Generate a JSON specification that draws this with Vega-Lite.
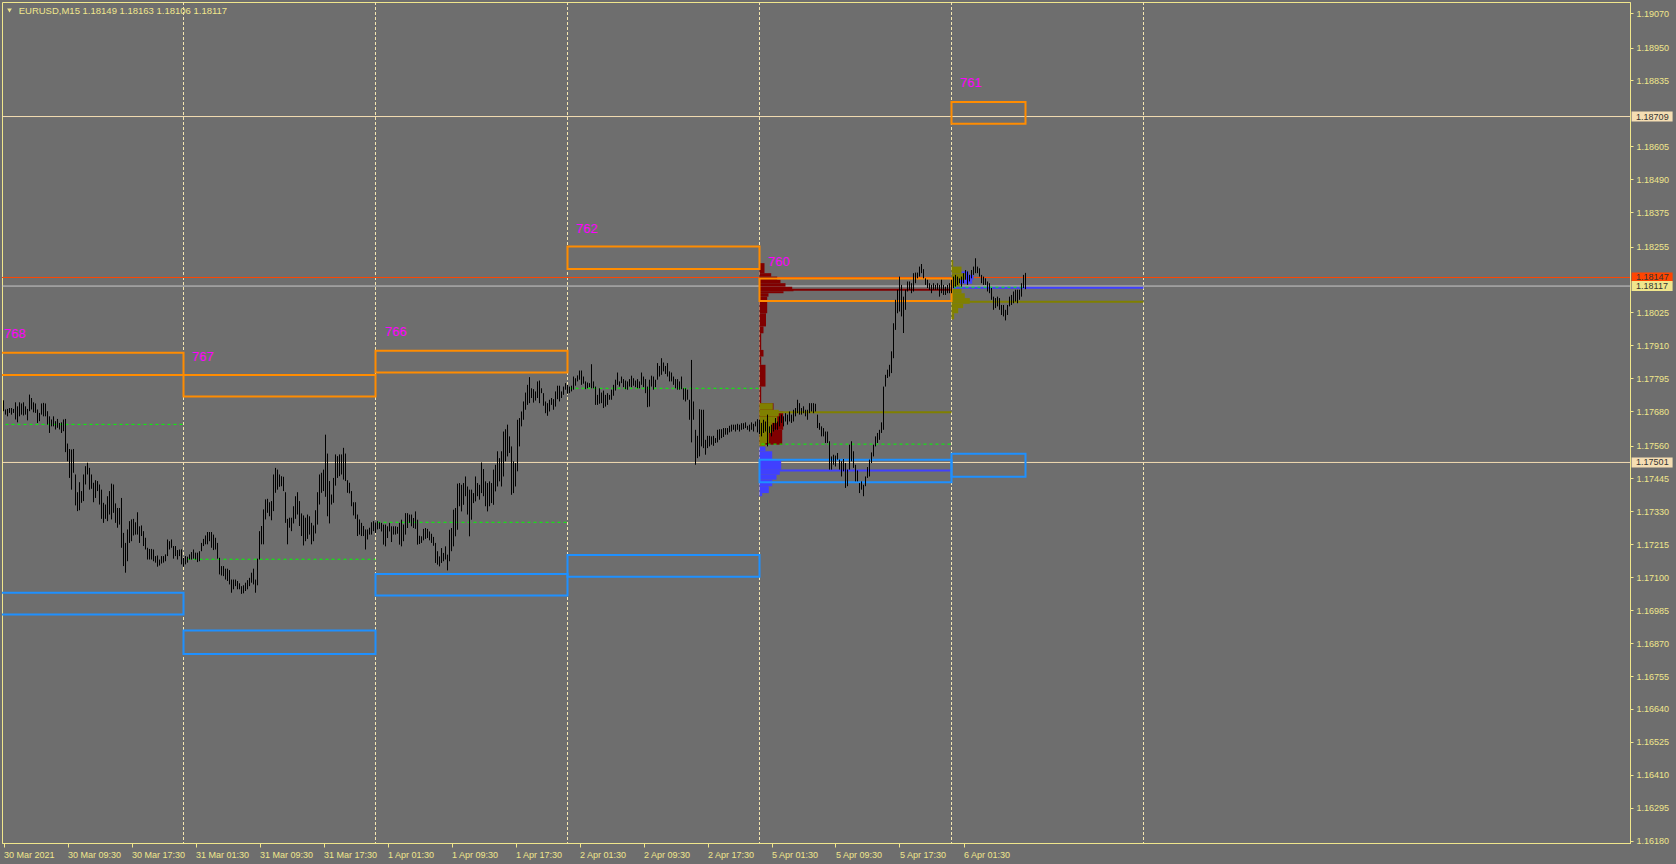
{
"$schema": "https://vega.github.io/schema/vega-lite/v6.json",
"width": 1628, "height": 841,
"autosize": {"type": "none"},
"padding": {"left": 2, "top": 2, "right": 46, "bottom": 21},
"background": "#6e6e6e",
"config": {
 "view": {"stroke": "#f0e68c", "fill": "#6e6e6e", "strokeWidth": 1},
 "axis": {"domainColor": "#f0e68c", "tickColor": "#f0e68c", "labelColor": "#f0e68c", "labelFont": "Liberation Sans", "labelFontSize": 9, "grid": false, "domainWidth": 1, "tickWidth": 1, "labelOverlap": false},
 "text": {"font": "Liberation Sans"}
},
"resolve": {"scale": {"color": "independent", "strokeWidth": "independent"}},
"datasets": {
 "seps": [{"i":96},{"i":192},{"i":288},{"i":384},{"i":480},{"i":576}],
 "hl": [{"p":1.18709,"k":"w"},{"p":1.17501,"k":"w"},{"p":1.18117,"k":"b"},{"p":1.18147,"k":"r"}],
 "prof": [
  {"i":384,"j":386.5,"p":1.18197,"q":1.18162,"k":"r"},
  {"i":384,"j":389.85,"p":1.18162,"q":1.1815,"k":"r"},
  {"i":384,"j":392.85,"p":1.1815,"q":1.18139,"k":"r"},
  {"i":384,"j":394.5,"p":1.18139,"q":1.18127,"k":"r"},
  {"i":384,"j":397,"p":1.18127,"q":1.18115,"k":"r"},
  {"i":384,"j":400.35,"p":1.18115,"q":1.18106,"k":"r"},
  {"i":384,"j":401,"p":1.18106,"q":1.18099,"k":"r"},
  {"i":384,"j":396,"p":1.18099,"q":1.18092,"k":"r"},
  {"i":384,"j":388.5,"p":1.18092,"q":1.1808,"k":"r"},
  {"i":384,"j":387.85,"p":1.1808,"q":1.18022,"k":"r"},
  {"i":384,"j":387.25,"p":1.18022,"q":1.17976,"k":"r"},
  {"i":384,"j":386,"p":1.17976,"q":1.17952,"k":"r"},
  {"i":384,"j":384.85,"p":1.17952,"q":1.17894,"k":"r"},
  {"i":384,"j":386,"p":1.17894,"q":1.17871,"k":"r"},
  {"i":384,"j":384.85,"p":1.17871,"q":1.17842,"k":"r"},
  {"i":384,"j":387,"p":1.17842,"q":1.17766,"k":"r"},
  {"i":384,"j":384.85,"p":1.17766,"q":1.17708,"k":"r"},
  {"i":384,"j":391,"p":1.17708,"q":1.17679,"k":"r"},
  {"i":384,"j":395.85,"p":1.17679,"q":1.17615,"k":"r"},
  {"i":384,"j":395.35,"p":1.17615,"q":1.17563,"k":"r"},
  {"i":384,"j":390.65,"p":1.17708,"q":1.17685,"k":"o"},
  {"i":384,"j":393.65,"p":1.17685,"q":1.17662,"k":"o"},
  {"i":384,"j":392.85,"p":1.17662,"q":1.17639,"k":"o"},
  {"i":384,"j":390.35,"p":1.17639,"q":1.17604,"k":"o"},
  {"i":384,"j":388.65,"p":1.17604,"q":1.17569,"k":"o"},
  {"i":384,"j":387,"p":1.17569,"q":1.17551,"k":"o"},
  {"i":384,"j":387,"p":1.17557,"q":1.1754,"k":"b"},
  {"i":384,"j":390.35,"p":1.1754,"q":1.17511,"k":"b"},
  {"i":384,"j":394.85,"p":1.17511,"q":1.17476,"k":"b"},
  {"i":384,"j":394.15,"p":1.17476,"q":1.17458,"k":"b"},
  {"i":384,"j":392.5,"p":1.17458,"q":1.17441,"k":"b"},
  {"i":384,"j":390.35,"p":1.17441,"q":1.17418,"k":"b"},
  {"i":384,"j":388.65,"p":1.17418,"q":1.17394,"k":"b"},
  {"i":384,"j":385.35,"p":1.17394,"q":1.17383,"k":"b"},
  {"i":480,"j":488.5,"p":1.18168,"q":1.18156,"k":"b"},
  {"i":480,"j":491,"p":1.18156,"q":1.18139,"k":"b"},
  {"i":480,"j":490.35,"p":1.18139,"q":1.18125,"k":"b"},
  {"i":480,"j":480.85,"p":1.18208,"q":1.18185,"k":"o"},
  {"i":480,"j":485,"p":1.18185,"q":1.18162,"k":"o"},
  {"i":480,"j":486.65,"p":1.18162,"q":1.18139,"k":"o"},
  {"i":480,"j":484.15,"p":1.18139,"q":1.18115,"k":"o"},
  {"i":480,"j":485,"p":1.18115,"q":1.18092,"k":"o"},
  {"i":480,"j":486.65,"p":1.18092,"q":1.18075,"k":"o"},
  {"i":480,"j":489.15,"p":1.18075,"q":1.18055,"k":"o"},
  {"i":480,"j":485.85,"p":1.18055,"q":1.1804,"k":"o"},
  {"i":480,"j":483.35,"p":1.1804,"q":1.18022,"k":"o"},
  {"i":480,"j":481.35,"p":1.18022,"q":1.18001,"k":"o"}
 ],
 "poc": [
  {"i":384,"j":480,"p":1.18104,"k":"r"},
  {"i":384,"j":480,"p":1.17676,"k":"o"},
  {"i":384,"j":480,"p":1.17473,"k":"b"},
  {"i":480,"j":576,"p":1.18062,"k":"o"},
  {"i":480,"j":576,"p":1.18111,"k":"b"}
 ],
 "green": [
  {"i":7,"j":96,"p":1.17634},
  {"i":98,"j":192,"p":1.17163},
  {"i":193,"j":288,"p":1.17292},
  {"i":289,"j":384,"p":1.1776},
  {"i":385,"j":480,"p":1.17565},
  {"i":481,"j":517,"p":1.18113}
 ],
 "boxes": [
  {"i":3,"j":96,"p":1.17884,"q":1.17806,"k":"s"},
  {"i":96,"j":192,"p":1.17806,"q":1.17731,"k":"s"},
  {"i":192,"j":288,"p":1.17891,"q":1.17815,"k":"s"},
  {"i":288,"j":384,"p":1.18255,"q":1.18177,"k":"s"},
  {"i":384,"j":480,"p":1.18143,"q":1.18065,"k":"s"},
  {"i":480,"j":517,"p":1.1876,"q":1.18684,"k":"s"},
  {"i":3,"j":96,"p":1.17046,"q":1.1697,"k":"d"},
  {"i":96,"j":192,"p":1.16914,"q":1.16832,"k":"d"},
  {"i":192,"j":288,"p":1.17111,"q":1.17036,"k":"d"},
  {"i":288,"j":384,"p":1.17178,"q":1.17102,"k":"d"},
  {"i":384,"j":480,"p":1.1751,"q":1.17432,"k":"d"},
  {"i":480,"j":517,"p":1.17531,"q":1.17451,"k":"d"}
 ],
 "labels": [
  {"i":6.25,"p":1.1795,"t":"768"},
  {"i":100.25,"p":1.1787,"t":"767"},
  {"i":196.75,"p":1.17957,"t":"766"},
  {"i":292.25,"p":1.18316,"t":"762"},
  {"i":388.25,"p":1.18202,"t":"760"},
  {"i":484.25,"p":1.18825,"t":"761"}
 ],
 "plabels": [{"p":1.18709,"k":"w"},{"p":1.18147,"k":"r"},{"p":1.18117,"k":"y"},{"p":1.17501,"k":"w"}],
 "bars": [
{"i":6,"h":1.17718,"l":1.1768},{"i":7,"h":1.17686,"l":1.17668},{"i":8,"h":1.17688,"l":1.17662},{"i":9,"h":1.17691,"l":1.17674},{"i":10,"h":1.17691,"l":1.17668},{"i":11,"h":1.17688,"l":1.17674},{"i":12,"h":1.17711,"l":1.17651},{"i":13,"h":1.17697,"l":1.17641},{"i":14,"h":1.17711,"l":1.17662},{"i":15,"h":1.17707,"l":1.17668},
{"i":16,"h":1.17711,"l":1.17665},{"i":17,"h":1.17697,"l":1.17668},{"i":18,"h":1.17688,"l":1.17648},{"i":19,"h":1.17738,"l":1.1768},{"i":20,"h":1.17726,"l":1.17686},{"i":21,"h":1.17711,"l":1.17676},{"i":22,"h":1.17707,"l":1.17674},{"i":23,"h":1.17686,"l":1.17639},{"i":24,"h":1.17674,"l":1.17645},{"i":25,"h":1.17707,"l":1.17668},
{"i":26,"h":1.17709,"l":1.17662},{"i":27,"h":1.17707,"l":1.17662},{"i":28,"h":1.1768,"l":1.17633},{"i":29,"h":1.17662,"l":1.17604},{"i":30,"h":1.17651,"l":1.17627},{"i":31,"h":1.17662,"l":1.17627},{"i":32,"h":1.17645,"l":1.17616},{"i":33,"h":1.17653,"l":1.17622},{"i":34,"h":1.17639,"l":1.17616},{"i":35,"h":1.17641,"l":1.17604},
{"i":36,"h":1.17651,"l":1.1761},{"i":37,"h":1.17653,"l":1.17537},{"i":38,"h":1.17567,"l":1.17505},{"i":39,"h":1.17548,"l":1.17447},{"i":40,"h":1.17546,"l":1.17406},{"i":41,"h":1.17548,"l":1.17465},{"i":42,"h":1.17459,"l":1.17351},{"i":43,"h":1.17397,"l":1.17331},{"i":44,"h":1.17432,"l":1.17334},{"i":45,"h":1.17401,"l":1.1736},
{"i":46,"h":1.17459,"l":1.17366},{"i":47,"h":1.17488,"l":1.17424},{"i":48,"h":1.175,"l":1.17459},{"i":49,"h":1.17482,"l":1.17406},{"i":50,"h":1.17459,"l":1.17409},{"i":51,"h":1.1743,"l":1.17362},{"i":52,"h":1.17439,"l":1.17377},{"i":53,"h":1.17436,"l":1.17401},{"i":54,"h":1.17424,"l":1.17354},{"i":55,"h":1.17406,"l":1.17304},
{"i":56,"h":1.1736,"l":1.1729},{"i":57,"h":1.17354,"l":1.17304},{"i":58,"h":1.17383,"l":1.17296},{"i":59,"h":1.17401,"l":1.17319},{"i":60,"h":1.17427,"l":1.17302},{"i":61,"h":1.17424,"l":1.17325},{"i":62,"h":1.17358,"l":1.1729},{"i":63,"h":1.17342,"l":1.17273},{"i":64,"h":1.17342,"l":1.17284},{"i":65,"h":1.17377,"l":1.17203},
{"i":66,"h":1.17255,"l":1.17139},{"i":67,"h":1.1722,"l":1.17116},{"i":68,"h":1.17267,"l":1.17156},{"i":69,"h":1.17296,"l":1.1722},{"i":70,"h":1.17302,"l":1.17226},{"i":71,"h":1.17304,"l":1.17246},{"i":72,"h":1.17292,"l":1.17249},{"i":73,"h":1.17327,"l":1.17249},{"i":74,"h":1.17278,"l":1.1722},{"i":75,"h":1.17281,"l":1.17244},
{"i":76,"h":1.17261,"l":1.17209},{"i":77,"h":1.17238,"l":1.17197},{"i":78,"h":1.17203,"l":1.17162},{"i":79,"h":1.17199,"l":1.17162},{"i":80,"h":1.17199,"l":1.17162},{"i":81,"h":1.17197,"l":1.17156},{"i":82,"h":1.17174,"l":1.17151},{"i":83,"h":1.17176,"l":1.17137},{"i":84,"h":1.17162,"l":1.17141},{"i":85,"h":1.17174,"l":1.17148},
{"i":86,"h":1.17174,"l":1.17151},{"i":87,"h":1.1718,"l":1.17156},{"i":88,"h":1.17232,"l":1.17174},{"i":89,"h":1.17226,"l":1.17197},{"i":90,"h":1.17232,"l":1.17203},{"i":91,"h":1.17209,"l":1.17165},{"i":92,"h":1.17209,"l":1.17174},{"i":93,"h":1.17195,"l":1.17162},{"i":94,"h":1.17197,"l":1.17174},{"i":95,"h":1.17197,"l":1.17145},
{"i":96,"h":1.17168,"l":1.17137},{"i":97,"h":1.17174,"l":1.17145},{"i":98,"h":1.17172,"l":1.17151},{"i":99,"h":1.1718,"l":1.17162},{"i":100,"h":1.17188,"l":1.17162},{"i":101,"h":1.17197,"l":1.17165},{"i":102,"h":1.17186,"l":1.17162},{"i":103,"h":1.17186,"l":1.17153},{"i":104,"h":1.17191,"l":1.17156},{"i":105,"h":1.1722,"l":1.17191},
{"i":106,"h":1.17234,"l":1.17209},{"i":107,"h":1.17246,"l":1.17215},{"i":108,"h":1.17258,"l":1.17215},{"i":109,"h":1.17258,"l":1.17226},{"i":110,"h":1.17258,"l":1.17203},{"i":111,"h":1.17249,"l":1.17195},{"i":112,"h":1.17238,"l":1.17197},{"i":113,"h":1.1722,"l":1.17165},{"i":114,"h":1.17168,"l":1.1711},{"i":115,"h":1.17139,"l":1.17106},
{"i":116,"h":1.17139,"l":1.17104},{"i":117,"h":1.1713,"l":1.17092},{"i":118,"h":1.1713,"l":1.17087},{"i":119,"h":1.17125,"l":1.17075},{"i":120,"h":1.17092,"l":1.17046},{"i":121,"h":1.17092,"l":1.17058},{"i":122,"h":1.17092,"l":1.17069},{"i":123,"h":1.17087,"l":1.17058},{"i":124,"h":1.17079,"l":1.17058},{"i":125,"h":1.17069,"l":1.17042},
{"i":126,"h":1.17072,"l":1.17044},{"i":127,"h":1.17081,"l":1.17052},{"i":128,"h":1.1709,"l":1.17058},{"i":129,"h":1.17098,"l":1.17069},{"i":130,"h":1.17116,"l":1.17081},{"i":131,"h":1.1713,"l":1.17075},{"i":132,"h":1.17092,"l":1.17046},{"i":133,"h":1.17165,"l":1.17072},{"i":134,"h":1.17261,"l":1.17162},{"i":135,"h":1.17279,"l":1.17215},
{"i":136,"h":1.17337,"l":1.17215},{"i":137,"h":1.17372,"l":1.17302},{"i":138,"h":1.17374,"l":1.17325},{"i":139,"h":1.17362,"l":1.17313},{"i":140,"h":1.17366,"l":1.17299},{"i":141,"h":1.17459,"l":1.17331},{"i":142,"h":1.17482,"l":1.17395},{"i":143,"h":1.17476,"l":1.17406},{"i":144,"h":1.17459,"l":1.17416},{"i":145,"h":1.17453,"l":1.17418},
{"i":146,"h":1.17451,"l":1.17401},{"i":147,"h":1.17397,"l":1.1729},{"i":148,"h":1.17304,"l":1.17215},{"i":149,"h":1.17308,"l":1.17273},{"i":150,"h":1.17308,"l":1.17261},{"i":151,"h":1.17348,"l":1.17288},{"i":152,"h":1.17383,"l":1.17304},{"i":153,"h":1.17397,"l":1.17319},{"i":154,"h":1.17366,"l":1.17279},{"i":155,"h":1.17323,"l":1.17244},
{"i":156,"h":1.17316,"l":1.17211},{"i":157,"h":1.17308,"l":1.17226},{"i":158,"h":1.17319,"l":1.17234},{"i":159,"h":1.17313,"l":1.17249},{"i":160,"h":1.1729,"l":1.17215},{"i":161,"h":1.17281,"l":1.17226},{"i":162,"h":1.17334,"l":1.17253},{"i":163,"h":1.17397,"l":1.17284},{"i":164,"h":1.17459,"l":1.17354},{"i":165,"h":1.17465,"l":1.17395},
{"i":166,"h":1.17476,"l":1.17401},{"i":167,"h":1.17598,"l":1.17381},{"i":168,"h":1.17532,"l":1.17313},{"i":169,"h":1.17436,"l":1.17288},{"i":170,"h":1.17389,"l":1.17354},{"i":171,"h":1.17447,"l":1.1736},{"i":172,"h":1.17529,"l":1.1742},{"i":173,"h":1.17523,"l":1.17447},{"i":174,"h":1.17529,"l":1.17453},{"i":175,"h":1.17529,"l":1.17459},
{"i":176,"h":1.17552,"l":1.17441},{"i":177,"h":1.17532,"l":1.17436},{"i":178,"h":1.17439,"l":1.17395},{"i":179,"h":1.1743,"l":1.17393},{"i":180,"h":1.17401,"l":1.17348},{"i":181,"h":1.17362,"l":1.17316},{"i":182,"h":1.17362,"l":1.17304},{"i":183,"h":1.17319,"l":1.17244},{"i":184,"h":1.17302,"l":1.17249},{"i":185,"h":1.1729,"l":1.17244},
{"i":186,"h":1.17279,"l":1.17244},{"i":187,"h":1.17267,"l":1.17197},{"i":188,"h":1.17267,"l":1.17232},{"i":189,"h":1.17273,"l":1.17249},{"i":190,"h":1.17292,"l":1.17249},{"i":191,"h":1.17296,"l":1.17261},{"i":192,"h":1.17292,"l":1.17255},{"i":193,"h":1.17296,"l":1.17267},{"i":194,"h":1.17292,"l":1.17269},
{"i":195,"h":1.1729,"l":1.1726},{"i":196,"h":1.17284,"l":1.17214},{"i":197,"h":1.17284,"l":1.17208},{"i":198,"h":1.17278,"l":1.17237},{"i":199,"h":1.1729,"l":1.1726},{"i":200,"h":1.17278,"l":1.17223},{"i":201,"h":1.17278,"l":1.17249},{"i":202,"h":1.17278,"l":1.17249},{"i":203,"h":1.17276,"l":1.17252},{"i":204,"h":1.1729,"l":1.17214},
{"i":205,"h":1.17301,"l":1.17208},{"i":206,"h":1.17284,"l":1.17226},{"i":207,"h":1.17324,"l":1.17249},{"i":208,"h":1.17324,"l":1.17272},{"i":209,"h":1.17319,"l":1.1729},{"i":210,"h":1.17319,"l":1.17278},{"i":211,"h":1.17307,"l":1.17272},{"i":212,"h":1.1733,"l":1.17269},{"i":213,"h":1.17301,"l":1.17214},{"i":214,"h":1.17245,"l":1.17216},
{"i":215,"h":1.17243,"l":1.1722},{"i":216,"h":1.17269,"l":1.17229},{"i":217,"h":1.17272,"l":1.17234},{"i":218,"h":1.17269,"l":1.17237},{"i":219,"h":1.1726,"l":1.17229},{"i":220,"h":1.17252,"l":1.1722},{"i":221,"h":1.17241,"l":1.1721},{"i":222,"h":1.1722,"l":1.1715},{"i":223,"h":1.17191,"l":1.17144},{"i":224,"h":1.17173,"l":1.17138},
{"i":225,"h":1.17202,"l":1.1715},{"i":226,"h":1.17185,"l":1.17156},{"i":227,"h":1.17208,"l":1.17162},{"i":228,"h":1.17179,"l":1.17124},{"i":229,"h":1.17266,"l":1.17156},{"i":230,"h":1.17272,"l":1.17191},{"i":231,"h":1.17336,"l":1.17208},{"i":232,"h":1.17342,"l":1.17243},{"i":233,"h":1.17427,"l":1.17266},{"i":234,"h":1.17429,"l":1.17348},
{"i":235,"h":1.17423,"l":1.1733},{"i":236,"h":1.17429,"l":1.17353},{"i":237,"h":1.17452,"l":1.17383},{"i":238,"h":1.17417,"l":1.17319},{"i":239,"h":1.17406,"l":1.17243},{"i":240,"h":1.17406,"l":1.17301},{"i":241,"h":1.17394,"l":1.17359},{"i":242,"h":1.17452,"l":1.17365},{"i":243,"h":1.17429,"l":1.17383},{"i":244,"h":1.17423,"l":1.17371},
{"i":245,"h":1.17501,"l":1.17394},{"i":246,"h":1.17478,"l":1.17383},{"i":247,"h":1.17435,"l":1.17348},{"i":248,"h":1.17429,"l":1.1733},{"i":249,"h":1.17435,"l":1.17348},{"i":250,"h":1.17429,"l":1.17359},{"i":251,"h":1.17476,"l":1.17353},{"i":252,"h":1.17493,"l":1.174},{"i":253,"h":1.1754,"l":1.17417},{"i":254,"h":1.17516,"l":1.17435},
{"i":255,"h":1.1754,"l":1.17417},{"i":256,"h":1.17609,"l":1.17452},{"i":257,"h":1.17617,"l":1.17505},{"i":258,"h":1.17633,"l":1.17522},{"i":259,"h":1.17592,"l":1.17534},{"i":260,"h":1.17557,"l":1.17388},{"i":261,"h":1.17505,"l":1.17394},{"i":262,"h":1.17499,"l":1.17417},{"i":263,"h":1.1765,"l":1.1747},{"i":264,"h":1.17656,"l":1.17557},
{"i":265,"h":1.17679,"l":1.17627},{"i":266,"h":1.17714,"l":1.1765},{"i":267,"h":1.17745,"l":1.17685},{"i":268,"h":1.17772,"l":1.17702},{"i":269,"h":1.17799,"l":1.17708},{"i":270,"h":1.1776,"l":1.17726},{"i":271,"h":1.17757,"l":1.1771},{"i":272,"h":1.17749,"l":1.17717},{"i":273,"h":1.17784,"l":1.17726},{"i":274,"h":1.17787,"l":1.17708},
{"i":275,"h":1.1776,"l":1.17743},{"i":276,"h":1.17743,"l":1.17699},{"i":277,"h":1.17714,"l":1.17673},{"i":278,"h":1.17708,"l":1.17664},{"i":279,"h":1.1772,"l":1.17679},{"i":280,"h":1.17726,"l":1.17702},{"i":281,"h":1.17722,"l":1.17685},{"i":282,"h":1.17749,"l":1.17696},{"i":283,"h":1.17769,"l":1.17722},{"i":284,"h":1.17769,"l":1.17714},
{"i":285,"h":1.17749,"l":1.17726},{"i":286,"h":1.17766,"l":1.17737},{"i":287,"h":1.17778,"l":1.17755},{"i":288,"h":1.17772,"l":1.17741},{"i":289,"h":1.17766,"l":1.17743},{"i":290,"h":1.17769,"l":1.17749},{"i":291,"h":1.17801,"l":1.17755},{"i":292,"h":1.17795,"l":1.17769},{"i":293,"h":1.17805,"l":1.17784},{"i":294,"h":1.17822,"l":1.1779},
{"i":295,"h":1.17822,"l":1.17772},{"i":296,"h":1.17801,"l":1.17776},{"i":297,"h":1.17784,"l":1.17757},{"i":298,"h":1.1778,"l":1.1776},{"i":299,"h":1.17778,"l":1.17764},{"i":300,"h":1.17844,"l":1.1776},{"i":301,"h":1.17784,"l":1.1776},{"i":302,"h":1.17766,"l":1.17702},{"i":303,"h":1.17737,"l":1.17702},{"i":304,"h":1.1776,"l":1.17706},
{"i":305,"h":1.17745,"l":1.17708},{"i":306,"h":1.17752,"l":1.17691},{"i":307,"h":1.17737,"l":1.17696},{"i":308,"h":1.17743,"l":1.17702},{"i":309,"h":1.17737,"l":1.1772},{"i":310,"h":1.17755,"l":1.1772},{"i":311,"h":1.17772,"l":1.17734},{"i":312,"h":1.1779,"l":1.17752},{"i":313,"h":1.17815,"l":1.17772},{"i":314,"h":1.17784,"l":1.17766},
{"i":315,"h":1.17801,"l":1.17778},{"i":316,"h":1.17792,"l":1.17764},{"i":317,"h":1.17787,"l":1.17757},{"i":318,"h":1.17784,"l":1.17755},{"i":319,"h":1.17792,"l":1.17766},{"i":320,"h":1.17804,"l":1.17764},{"i":321,"h":1.17795,"l":1.17769},{"i":322,"h":1.17787,"l":1.17764},{"i":323,"h":1.17792,"l":1.1776},{"i":324,"h":1.17784,"l":1.1776},
{"i":325,"h":1.17815,"l":1.17772},{"i":326,"h":1.17801,"l":1.17764},{"i":327,"h":1.17792,"l":1.17743},{"i":328,"h":1.17766,"l":1.17694},{"i":329,"h":1.1779,"l":1.17696},{"i":330,"h":1.17804,"l":1.17766},{"i":331,"h":1.17801,"l":1.17755},{"i":332,"h":1.1779,"l":1.17764},{"i":333,"h":1.17848,"l":1.1779},{"i":334,"h":1.17838,"l":1.17801},
{"i":335,"h":1.17865,"l":1.17807},{"i":336,"h":1.1785,"l":1.17819},{"i":337,"h":1.17838,"l":1.1781},{"i":338,"h":1.17848,"l":1.17801},{"i":339,"h":1.17819,"l":1.17784},{"i":340,"h":1.17815,"l":1.17784},{"i":341,"h":1.17801,"l":1.17772},{"i":342,"h":1.17792,"l":1.1776},{"i":343,"h":1.17792,"l":1.17755},{"i":344,"h":1.17784,"l":1.17755},
{"i":345,"h":1.17801,"l":1.17757},{"i":346,"h":1.1776,"l":1.1772},{"i":347,"h":1.1776,"l":1.17714},{"i":348,"h":1.17755,"l":1.1772},{"i":349,"h":1.1772,"l":1.1765},{"i":350,"h":1.17859,"l":1.17571},{"i":351,"h":1.17714,"l":1.1765},{"i":352,"h":1.17615,"l":1.17493},{"i":353,"h":1.17594,"l":1.17516},{"i":354,"h":1.17687,"l":1.17522},
{"i":355,"h":1.17685,"l":1.17557},{"i":356,"h":1.17685,"l":1.17551},{"i":357,"h":1.1758,"l":1.17528},{"i":358,"h":1.17594,"l":1.17551},{"i":359,"h":1.17594,"l":1.17557},{"i":360,"h":1.17592,"l":1.17563},{"i":361,"h":1.17594,"l":1.17559},{"i":362,"h":1.17586,"l":1.17569},{"i":363,"h":1.17615,"l":1.17571},{"i":364,"h":1.17617,"l":1.1758},
{"i":365,"h":1.17617,"l":1.17586},{"i":366,"h":1.17621,"l":1.1759},{"i":367,"h":1.17621,"l":1.17598},{"i":368,"h":1.17621,"l":1.17598},{"i":369,"h":1.17629,"l":1.17606},{"i":370,"h":1.17633,"l":1.17609},{"i":371,"h":1.17633,"l":1.17615},{"i":372,"h":1.17633,"l":1.17609},{"i":373,"h":1.17636,"l":1.17615},{"i":374,"h":1.17633,"l":1.17609},
{"i":375,"h":1.17638,"l":1.17615},{"i":376,"h":1.17638,"l":1.17617},{"i":377,"h":1.17641,"l":1.17621},{"i":378,"h":1.17629,"l":1.17615},{"i":379,"h":1.17633,"l":1.17609},{"i":380,"h":1.17641,"l":1.17615},{"i":381,"h":1.17636,"l":1.17609},{"i":382,"h":1.17644,"l":1.17627},{"i":383,"h":1.17652,"l":1.17606},{"i":384,"h":1.1765,"l":1.176},
{"i":385,"h":1.17639,"l":1.17592},{"i":386,"h":1.1765,"l":1.17604},{"i":387,"h":1.17644,"l":1.17609},{"i":388,"h":1.17668,"l":1.17557},{"i":389,"h":1.17627,"l":1.17604},{"i":390,"h":1.17633,"l":1.17592},{"i":391,"h":1.17639,"l":1.17609},{"i":392,"h":1.17656,"l":1.17615},{"i":393,"h":1.17644,"l":1.17615},{"i":394,"h":1.17662,"l":1.17627},
{"i":395,"h":1.17668,"l":1.17639},{"i":396,"h":1.17662,"l":1.17627},{"i":397,"h":1.17673,"l":1.17644},{"i":398,"h":1.17668,"l":1.17633},{"i":399,"h":1.17679,"l":1.17644},{"i":400,"h":1.17668,"l":1.17639},{"i":401,"h":1.17685,"l":1.17644},{"i":402,"h":1.17691,"l":1.17662},{"i":403,"h":1.1772,"l":1.17673},{"i":404,"h":1.17708,"l":1.17668},
{"i":405,"h":1.17691,"l":1.17668},{"i":406,"h":1.17697,"l":1.17673},{"i":407,"h":1.17685,"l":1.17662},{"i":408,"h":1.17685,"l":1.1765},{"i":409,"h":1.17708,"l":1.17673},{"i":410,"h":1.17708,"l":1.17679},{"i":411,"h":1.17708,"l":1.17673},{"i":412,"h":1.17706,"l":1.17679},{"i":413,"h":1.17668,"l":1.17621},{"i":414,"h":1.17639,"l":1.17615},
{"i":415,"h":1.17627,"l":1.17592},{"i":416,"h":1.17621,"l":1.17592},{"i":417,"h":1.17609,"l":1.17569},{"i":418,"h":1.17609,"l":1.17569},{"i":419,"h":1.17575,"l":1.17476},{"i":420,"h":1.17522,"l":1.17476},{"i":421,"h":1.17528,"l":1.17493},{"i":422,"h":1.17525,"l":1.17487},{"i":423,"h":1.17534,"l":1.17511},{"i":424,"h":1.17511,"l":1.17476},
{"i":425,"h":1.17505,"l":1.17452},{"i":426,"h":1.17513,"l":1.1747},{"i":427,"h":1.17499,"l":1.17412},{"i":428,"h":1.17476,"l":1.17418},{"i":429,"h":1.17563,"l":1.17476},{"i":430,"h":1.17575,"l":1.17505},{"i":431,"h":1.1754,"l":1.17482},{"i":432,"h":1.17493,"l":1.17435},{"i":433,"h":1.17473,"l":1.17435},{"i":434,"h":1.17429,"l":1.17394},
{"i":435,"h":1.17435,"l":1.17406},{"i":436,"h":1.17423,"l":1.17383},{"i":437,"h":1.17452,"l":1.17418},{"i":438,"h":1.17485,"l":1.17447},{"i":439,"h":1.17511,"l":1.17452},{"i":440,"h":1.17536,"l":1.17499},{"i":441,"h":1.17563,"l":1.17522},{"i":442,"h":1.17592,"l":1.17557},{"i":443,"h":1.17604,"l":1.17569},{"i":444,"h":1.17615,"l":1.1758},
{"i":445,"h":1.17641,"l":1.17604},{"i":446,"h":1.17766,"l":1.17615},{"i":447,"h":1.17807,"l":1.17766},{"i":448,"h":1.17825,"l":1.17796},{"i":449,"h":1.17842,"l":1.17801},{"i":450,"h":1.17889,"l":1.17813},{"i":451,"h":1.17987,"l":1.17865},{"i":452,"h":1.18069,"l":1.17964},{"i":453,"h":1.18104,"l":1.18022},{"i":454,"h":1.1815,"l":1.18028},
{"i":455,"h":1.18121,"l":1.18011},{"i":456,"h":1.1808,"l":1.17953},{"i":457,"h":1.18104,"l":1.18034},{"i":458,"h":1.18133,"l":1.18098},{"i":459,"h":1.18133,"l":1.18104},{"i":460,"h":1.18127,"l":1.18092},{"i":461,"h":1.18162,"l":1.18098},{"i":462,"h":1.18164,"l":1.18127},{"i":463,"h":1.18164,"l":1.18144},{"i":464,"h":1.18185,"l":1.1815},
{"i":465,"h":1.18194,"l":1.18162},{"i":466,"h":1.18176,"l":1.18144},{"i":467,"h":1.18144,"l":1.18121},{"i":468,"h":1.18139,"l":1.1811},{"i":469,"h":1.18127,"l":1.18104},{"i":470,"h":1.18121,"l":1.18092},{"i":471,"h":1.18127,"l":1.18104},{"i":472,"h":1.18121,"l":1.18104},{"i":473,"h":1.18127,"l":1.18104},{"i":474,"h":1.18121,"l":1.1808},
{"i":475,"h":1.18139,"l":1.18092},{"i":476,"h":1.18121,"l":1.18086},{"i":477,"h":1.18115,"l":1.18086},{"i":478,"h":1.18121,"l":1.18092},{"i":479,"h":1.18127,"l":1.18092},{"i":480,"h":1.18139,"l":1.18092},{"i":481,"h":1.1815,"l":1.1811},{"i":482,"h":1.18156,"l":1.18115},{"i":483,"h":1.1815,"l":1.18121},{"i":484,"h":1.18144,"l":1.18127},
{"i":485,"h":1.1815,"l":1.18115},{"i":486,"h":1.18162,"l":1.18127},{"i":487,"h":1.18173,"l":1.18139},{"i":488,"h":1.18168,"l":1.18121},{"i":489,"h":1.18156,"l":1.18133},{"i":490,"h":1.18173,"l":1.18144},{"i":491,"h":1.18185,"l":1.18156},{"i":492,"h":1.18214,"l":1.18162},{"i":493,"h":1.18185,"l":1.18162},{"i":494,"h":1.18179,"l":1.1815},
{"i":495,"h":1.18156,"l":1.18127},{"i":496,"h":1.1815,"l":1.18121},{"i":497,"h":1.18144,"l":1.18121},{"i":498,"h":1.18133,"l":1.18098},{"i":499,"h":1.18127,"l":1.18092},{"i":500,"h":1.1811,"l":1.18069},{"i":501,"h":1.1808,"l":1.18034},{"i":502,"h":1.18075,"l":1.1804},{"i":503,"h":1.1808,"l":1.18046},{"i":504,"h":1.18075,"l":1.18034},
{"i":505,"h":1.18051,"l":1.18016},{"i":506,"h":1.18051,"l":1.18011},{"i":507,"h":1.18034,"l":1.17997},{"i":508,"h":1.18051,"l":1.18016},{"i":509,"h":1.1808,"l":1.18046},{"i":510,"h":1.18086,"l":1.18051},{"i":511,"h":1.18098,"l":1.18057},{"i":512,"h":1.18104,"l":1.18063},{"i":513,"h":1.18104,"l":1.18057},{"i":514,"h":1.18104,"l":1.18069},
{"i":515,"h":1.18127,"l":1.1808},{"i":516,"h":1.18156,"l":1.1811},{"i":517,"h":1.18163,"l":1.18106}
 ]
},
"layer": [
 {"data": {"name": "bars"}, "mark": {"type": "rule", "stroke": "#000000", "strokeWidth": 1, "opacity": 0},
  "encoding": {
   "x": {"field": "i", "type": "quantitative", "scale": {"domain": [5.25, 819.25], "nice": false, "zero": false},
    "axis": {"orient": "bottom", "title": null, "values": [6, 38, 70, 102, 134, 166, 198, 230, 262, 294, 326, 358, 390, 422, 454, 486], "tickCount": 100,
     "labelExpr": "['30 Mar 2021','30 Mar 09:30','30 Mar 17:30','31 Mar 01:30','31 Mar 09:30','31 Mar 17:30','1 Apr 01:30','1 Apr 09:30','1 Apr 17:30','2 Apr 01:30','2 Apr 09:30','2 Apr 17:30','5 Apr 01:30','5 Apr 09:30','5 Apr 17:30','6 Apr 01:30'][round((datum.value-6)/32)]",
     "labelAlign": "left", "labelBaseline": "top", "tickSize": 4, "labelPadding": 3, "labelOverlap": false, "labelFlush": false, "labelBound": false}},
   "y": {"field": "h", "type": "quantitative", "scale": {"domain": [1.16172, 1.19109], "nice": false, "zero": false},
    "axis": {"orient": "right", "title": null, "values": [1.1907, 1.1895, 1.18835, 1.18605, 1.1849, 1.18375, 1.18255, 1.18025, 1.1791, 1.17795, 1.1768, 1.1756, 1.17445, 1.1733, 1.17215, 1.171, 1.16985, 1.1687, 1.16755, 1.1664, 1.16525, 1.1641, 1.16295, 1.1618], "tickCount": 100,
     "format": ".5f", "tickSize": 3, "labelPadding": 3, "labelOverlap": false, "labelBound": false, "labelFlush": false, "labelBaseline": "middle"}},
   "y2": {"field": "l"}}},
 {"data": {"name": "seps"}, "mark": {"type": "rule", "stroke": "#f5e6b0", "strokeDash": [3, 2], "strokeWidth": 1},
  "encoding": {"x": {"field": "i", "type": "quantitative", "axis": {"title": null}}}},
 {"data": {"name": "hl"}, "mark": {"type": "rule"},
  "encoding": {"y": {"field": "p", "type": "quantitative", "axis": {"title": null}},
   "color": {"field": "k", "type": "nominal", "scale": {"domain": ["w", "b", "r"], "range": ["#f5deb3", "#c8c8c8", "#ff4500"]}, "legend": null},
   "strokeWidth": {"field": "k", "type": "nominal", "scale": {"domain": ["w", "b", "r"], "range": [1, 1, 2]}, "legend": null}}},
 {"data": {"name": "prof"}, "mark": {"type": "rect", "clip": true},
  "encoding": {"x": {"field": "i", "type": "quantitative", "axis": {"title": null}}, "x2": {"field": "j"},
   "y": {"field": "p", "type": "quantitative", "axis": {"title": null}}, "y2": {"field": "q"},
   "color": {"field": "k", "type": "nominal", "scale": {"domain": ["r", "o", "b"], "range": ["#800000", "#808000", "#4040ff"]}, "legend": null}}},
 {"data": {"name": "poc"}, "mark": {"type": "rule", "strokeWidth": 2},
  "encoding": {"x": {"field": "i", "type": "quantitative", "axis": {"title": null}}, "x2": {"field": "j"},
   "y": {"field": "p", "type": "quantitative", "axis": {"title": null}},
   "color": {"field": "k", "type": "nominal", "scale": {"domain": ["r", "o", "b"], "range": ["#800000", "#808000", "#4040ff"]}, "legend": null}}},
 {"data": {"name": "green"}, "mark": {"type": "rule", "stroke": "#00ff00", "strokeDash": [3, 3], "strokeWidth": 1},
  "encoding": {"x": {"field": "i", "type": "quantitative", "axis": {"title": null}}, "x2": {"field": "j"},
   "y": {"field": "p", "type": "quantitative", "axis": {"title": null}}}},
 {"data": {"name": "boxes"}, "mark": {"type": "rect", "filled": false, "strokeWidth": 2, "clip": true},
  "encoding": {"x": {"field": "i", "type": "quantitative", "axis": {"title": null}}, "x2": {"field": "j"},
   "y": {"field": "p", "type": "quantitative", "axis": {"title": null}}, "y2": {"field": "q"},
   "color": {"field": "k", "type": "nominal", "scale": {"domain": ["s", "d"], "range": ["#ff8c00", "#1e90ff"]}, "legend": null}}},
 {"data": {"name": "bars"}, "mark": {"type": "rule", "stroke": "#000000", "strokeWidth": 1},
  "encoding": {"x": {"field": "i", "type": "quantitative", "axis": {"title": null}},
   "y": {"field": "h", "type": "quantitative", "axis": {"title": null}}, "y2": {"field": "l"}}},
 {"data": {"name": "labels"}, "mark": {"type": "text", "color": "#ff00ff", "align": "left", "baseline": "middle", "fontSize": 13, "font": "Liberation Sans"},
  "encoding": {"x": {"field": "i", "type": "quantitative", "axis": {"title": null}}, "y": {"field": "p", "type": "quantitative", "axis": {"title": null}}, "text": {"field": "t"}}},
 {"data": {"name": "plabels"}, "mark": {"type": "tick", "orient": "horizontal", "size": 41, "thickness": 10, "opacity": 1},
  "encoding": {"x": {"datum": 830.3, "type": "quantitative", "axis": {"title": null}}, "y": {"field": "p", "type": "quantitative", "axis": {"title": null}},
   "color": {"field": "k", "type": "nominal", "scale": {"domain": ["w", "r", "y"], "range": ["#f5deb3", "#ff4500", "#f0e68c"]}, "legend": null}}},
 {"data": {"name": "plabels"}, "mark": {"type": "text", "color": "#333333", "align": "left", "baseline": "middle", "fontSize": 9, "font": "Liberation Sans"},
  "encoding": {"x": {"datum": 822.3, "type": "quantitative", "axis": {"title": null}}, "y": {"field": "p", "type": "quantitative", "axis": {"title": null}}, "text": {"field": "p", "format": ".5f"}}},
 {"data": {"values": [{"t": "EURUSD,M15  1.18149 1.18163 1.18106 1.18117"}]}, "mark": {"type": "point", "shape": "triangle-down", "filled": true, "size": 22, "color": "#f0e68c", "opacity": 1},
  "encoding": {"x": {"datum": 9.0, "type": "quantitative", "axis": {"title": null}}, "y": {"datum": 1.19079, "type": "quantitative", "axis": {"title": null}}}},
 {"data": {"values": [{"t": "EURUSD,M15  1.18149 1.18163 1.18106 1.18117"}]}, "mark": {"type": "text", "color": "#f0e68c", "align": "left", "baseline": "middle", "fontSize": 9.5, "font": "Liberation Sans"},
  "encoding": {"x": {"datum": 13.6, "type": "quantitative", "axis": {"title": null}}, "y": {"datum": 1.19079, "type": "quantitative", "axis": {"title": null}}, "text": {"field": "t"}}}
]
}
